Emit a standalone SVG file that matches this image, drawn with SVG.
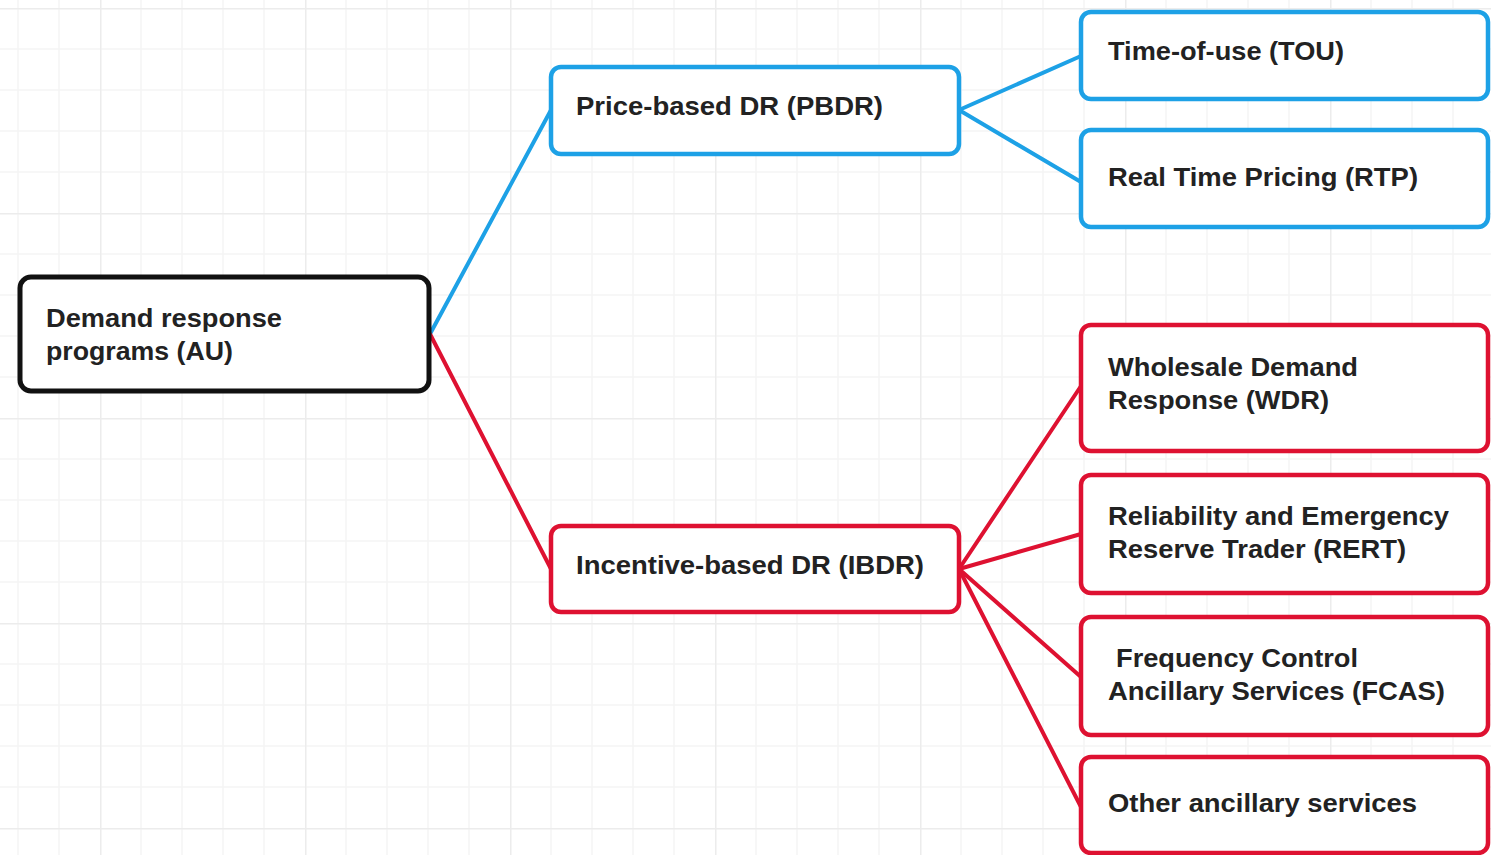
<svg xmlns="http://www.w3.org/2000/svg" width="1491" height="855" viewBox="0 0 1491 855">
<style>
.box{fill:#ffffff;stroke-width:4.5}
.root{stroke:#111111;stroke-width:5}
.blue{stroke:#1da1e6}
.red{stroke:#de1131}
.lbl{font-family:"Liberation Sans",Arial,sans-serif;font-weight:bold;font-size:25px;fill:#222222}
.edge{fill:none;stroke-width:4;stroke-linecap:round}
</style>
<defs>
<pattern id="grid" x="100" y="8" width="205" height="205" patternUnits="userSpaceOnUse">
<path d="M41 0V205M82 0V205M123 0V205M164 0V205M0 41H205M0 82H205M0 123H205M0 164H205" stroke="#f5f5f5" stroke-width="1.5" fill="none"/>
<path d="M0.5 0V205M0 0.5H205" stroke="#ececec" stroke-width="2" fill="none"/>
</pattern>
</defs>
<rect width="1491" height="855" fill="#ffffff"/>
<rect width="1491" height="855" fill="url(#grid)"/>
<g id="connectors">
<line class="edge blue" x1="430" y1="334" x2="551" y2="110"/>
<line class="edge red" x1="430" y1="334" x2="551" y2="569"/>
<line class="edge blue" x1="959" y1="110" x2="1081" y2="56"/>
<line class="edge blue" x1="959" y1="110" x2="1081" y2="182"/>
<line class="edge red" x1="959" y1="569" x2="1081" y2="386"/>
<line class="edge red" x1="959" y1="569" x2="1081" y2="534"/>
<line class="edge red" x1="959" y1="569" x2="1081" y2="677"/>
<line class="edge red" x1="959" y1="569" x2="1081" y2="807"/>
</g>
<g id="root">
<rect class="box root" x="20" y="277" width="409" height="114" rx="11"/>
<text class="lbl" x="46" y="327" textLength="236" lengthAdjust="spacingAndGlyphs">Demand response</text>
<text class="lbl" x="46" y="360" textLength="187" lengthAdjust="spacingAndGlyphs">programs (AU)</text>
</g>
<g id="pbdr">
<rect class="box blue" x="551" y="67" width="408" height="87" rx="10"/>
<text class="lbl" x="576" y="115" textLength="307" lengthAdjust="spacingAndGlyphs">Price-based DR (PBDR)</text>
</g>
<g id="ibdr">
<rect class="box red" x="551" y="526" width="408" height="86" rx="10"/>
<text class="lbl" x="576" y="574" textLength="348" lengthAdjust="spacingAndGlyphs">Incentive-based DR (IBDR)</text>
</g>
<g id="tou">
<rect class="box blue" x="1081" y="12" width="407" height="87" rx="10"/>
<text class="lbl" x="1108" y="60" textLength="236" lengthAdjust="spacingAndGlyphs">Time-of-use (TOU)</text>
</g>
<g id="rtp">
<rect class="box blue" x="1081" y="130" width="407" height="97" rx="10"/>
<text class="lbl" x="1108" y="186" textLength="310" lengthAdjust="spacingAndGlyphs">Real Time Pricing (RTP)</text>
</g>
<g id="wdr">
<rect class="box red" x="1081" y="325" width="407" height="126" rx="10"/>
<text class="lbl" x="1108" y="376" textLength="250" lengthAdjust="spacingAndGlyphs">Wholesale Demand</text>
<text class="lbl" x="1108" y="409" textLength="221" lengthAdjust="spacingAndGlyphs">Response (WDR)</text>
</g>
<g id="rert">
<rect class="box red" x="1081" y="475" width="407" height="118" rx="10"/>
<text class="lbl" x="1108" y="525" textLength="341" lengthAdjust="spacingAndGlyphs">Reliability and Emergency</text>
<text class="lbl" x="1108" y="558" textLength="298" lengthAdjust="spacingAndGlyphs">Reserve Trader (RERT)</text>
</g>
<g id="fcas">
<rect class="box red" x="1081" y="617" width="407" height="118" rx="10"/>
<text class="lbl" x="1116" y="667" textLength="242" lengthAdjust="spacingAndGlyphs">Frequency Control</text>
<text class="lbl" x="1108" y="700" textLength="337" lengthAdjust="spacingAndGlyphs">Ancillary Services (FCAS)</text>
</g>
<g id="other">
<rect class="box red" x="1081" y="757" width="407" height="96" rx="10"/>
<text class="lbl" x="1108" y="812" textLength="309" lengthAdjust="spacingAndGlyphs">Other ancillary services</text>
</g>
</svg>
